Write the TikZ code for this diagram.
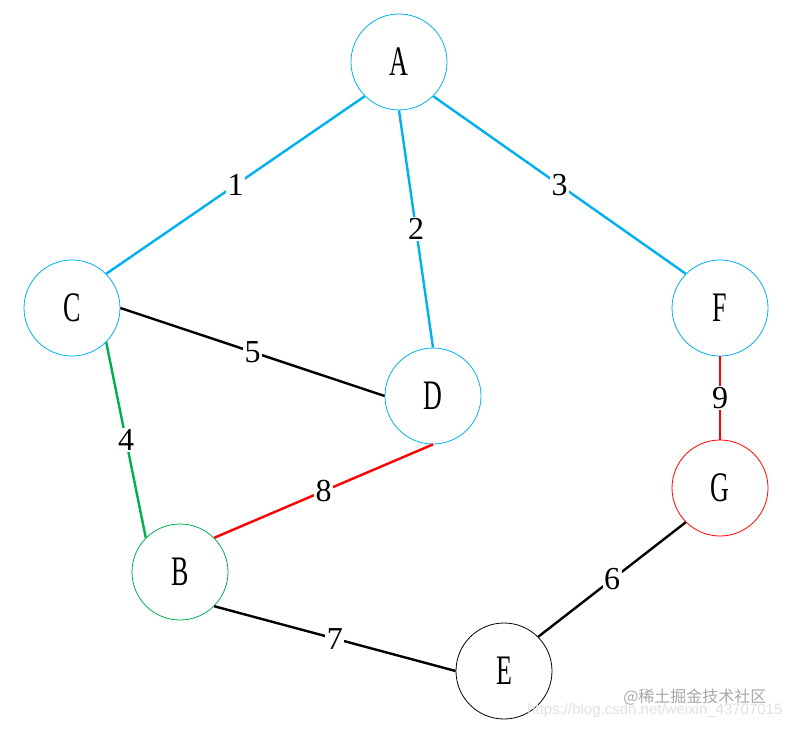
\documentclass[tikz,border=0pt]{standalone}
\usepackage{fontspec}
\usepackage{graphicx}
\setmainfont{Liberation Serif}
\newfontfamily\cjk{Noto Sans CJK SC}
\newfontfamily\urlfont{Liberation Sans}
\definecolor{EdgeBlue}{RGB}{0, 176, 240}
\definecolor{EdgeGreen}{RGB}{0, 176, 80}
\definecolor{EdgeRed}{RGB}{255, 0, 0}
\newcommand{\narrow}[1]{\scalebox{0.62}[1]{#1}}

\begin{document}
\begin{tikzpicture}[
    x=1pt, y=-1pt,
    vertex/.style={circle, draw, line width=0.8pt, minimum size=96pt, inner sep=0pt, font=\fontsize{42}{42}\selectfont},
    edge/.style={line width=2.4pt},
    weight/.style={fill=white, inner sep=1.5pt, font=\fontsize{32}{32}\selectfont},
    mark text/.style={text=black!35, font=\cjk\fontsize{16}{16}\selectfont},
    url text/.style={text=black!12, font=\urlfont\fontsize{15}{15}\selectfont}
    ]
    \useasboundingbox (0,0) rectangle (791,730);

    % vertices
    \foreach \n/\x/\y/\c in {A/399/62/EdgeBlue, C/72/308/EdgeBlue, F/720/308/EdgeBlue,
                             D/433/396/EdgeBlue, G/720/488/EdgeRed, B/180/572/EdgeGreen,
                             E/504/671/black}
    \node [vertex, draw=\c] (\n) at (\x, \y) {\narrow{\n}};

    % weighted edges
    \foreach \a/\b/\w/\c in {A.225/C.45/1/EdgeBlue, A.south/D.north/2/EdgeBlue,
                             A.-45/F.135/3/EdgeBlue, C.-45/B.135/4/EdgeGreen,
                             C.east/D.west/5/black, G.225/E.45/6/black,
                             B.-45/E.west/7/black, D.south/B.45/8/EdgeRed,
                             F.south/G.north/9/EdgeRed}
    \draw [edge, draw=\c] (\a) -- node [weight] {\w} (\b);

    % watermark
    \node [url text, anchor=east] (url) at (786, 711) {https://blog.csdn.net/weixin\_43707015};
    \node [mark text, anchor=east] (mark) at (770, 697) {@稀土掘金技术社区};
\end{tikzpicture}
\end{document}
